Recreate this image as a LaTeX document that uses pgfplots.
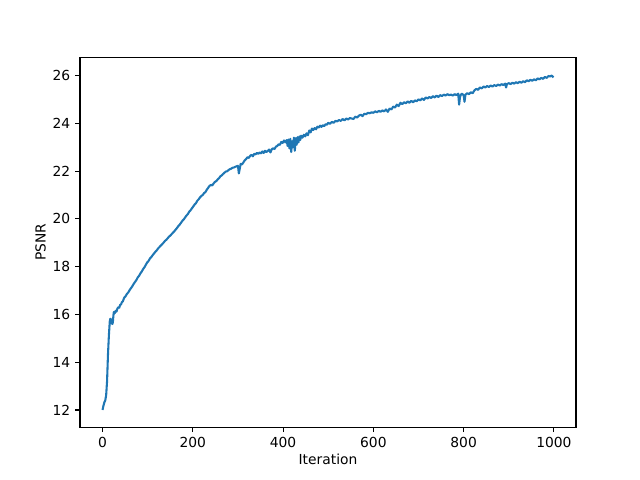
\documentclass[border=0pt]{standalone}
\usepackage{fontspec}
\setmainfont{DejaVu Sans}
\usepackage{pgfplots}
\pgfplotsset{compat=1.18}
\definecolor{mplblue}{HTML}{1F77B4}

\begin{document}
\begin{tikzpicture}
\path[use as bounding box] (-0.8in,-0.528in) rectangle (5.6in,4.272in);
\begin{axis}[
	at={(0,0)}, anchor=south west,
	scale only axis,
	width=4.96in, height=3.696in,
	xmin=-49.95, xmax=1048.95,
	ymin=11.28, ymax=26.75,
	xtick={0,200,400,600,800,1000},
	ytick={12,14,16,18,20,22,24,26},
	xticklabel style={/pgf/number format/1000 sep={}},
	xlabel={Iteration}, ylabel={PSNR},
	tick align=outside, tick pos=left,
	major tick length=3.5pt,
	every tick/.style={black, line width=0.8pt},
	axis line style={line width=0.8pt},
	tick label style={font=\fontsize{10}{12}\selectfont},
	label style={font=\fontsize{10}{12}\selectfont},
	/pgf/number format/assume math mode=true,
	xlabel style={yshift=2pt},
	ylabel style={yshift=-2pt},
	]
	% PSNR per iteration
	\addplot[mplblue, line width=1.5pt, line join=round] coordinates {
		(0,12.00)(2,12.18)(4,12.32)(6,12.40)(8,12.62)(10,13.20)(12,14.30)(14,15.10)(16,15.70)(17,15.82)
		(18,15.70)(19,15.80)(20,15.62)(21,15.75)(22,15.60)(23,15.70)(24,15.95)(25,16.10)(27,16.05)(29,16.15)
		(31,16.12)(33,16.25)(35,16.30)(37,16.28)(39,16.40)(41,16.42)(43,16.52)(45,16.55)(48,16.70)(51,16.76)
		(54,16.86)(57,16.92)(60,17.02)(63,17.10)(66,17.18)(69,17.28)(72,17.36)(75,17.44)(78,17.55)(81,17.62)
		(84,17.72)(87,17.80)(90,17.90)(93,17.98)(96,18.08)(99,18.18)(102,18.24)(105,18.34)(108,18.40)(111,18.48)
		(114,18.55)(117,18.62)(120,18.68)(123,18.76)(126,18.82)(129,18.88)(132,18.94)(135,19.00)(138,19.07)(141,19.12)
		(144,19.18)(147,19.25)(150,19.30)(153,19.36)(156,19.42)(159,19.48)(162,19.55)(165,19.62)(168,19.70)(171,19.76)
		(174,19.84)(177,19.92)(180,19.98)(183,20.06)(186,20.14)(189,20.20)(192,20.30)(195,20.36)(198,20.44)(201,20.52)
		(204,20.60)(207,20.66)(210,20.76)(213,20.82)(216,20.90)(219,20.96)(222,21.00)(225,21.08)(228,21.12)(231,21.22)
		(234,21.30)(237,21.38)(240,21.42)(243,21.40)(246,21.48)(249,21.55)(252,21.58)(255,21.65)(258,21.70)(261,21.78)
		(264,21.82)(267,21.88)(270,21.93)(273,21.98)(276,21.99)(279,22.04)(282,22.08)(285,22.10)(288,22.14)(291,22.15)
		(294,22.18)(297,22.20)(300,22.22)(302,21.90)(304,22.10)(306,22.30)(309,22.28)(312,22.36)(315,22.45)(318,22.50)
		(321,22.58)(324,22.55)(327,22.64)(330,22.68)(333,22.62)(336,22.72)(339,22.70)(342,22.76)(345,22.72)(348,22.78)
		(351,22.74)(354,22.82)(357,22.76)(360,22.85)(363,22.80)(366,22.84)(369,22.90)(372,22.78)(375,22.92)(378,22.95)
		(381,22.92)(384,23.02)(387,23.05)(390,23.12)(393,23.10)(396,23.22)(399,23.18)(402,23.28)(405,23.20)(408,23.30)
		(410,23.05)(412,23.32)(414,22.95)(416,23.35)(418,22.80)(420,23.25)(422,23.00)(424,23.40)(426,22.85)(428,23.38)
		(430,23.10)(432,23.42)(434,23.20)(436,23.45)(438,23.30)(440,23.48)(443,23.40)(446,23.52)(449,23.45)(452,23.58)
		(455,23.50)(458,23.70)(461,23.62)(464,23.78)(467,23.72)(470,23.80)(473,23.75)(476,23.86)(479,23.82)(482,23.90)
		(485,23.85)(488,23.92)(491,23.88)(494,23.96)(497,23.94)(500,24.02)(504,23.98)(508,24.06)(512,24.02)(516,24.10)
		(520,24.08)(524,24.14)(528,24.10)(532,24.18)(536,24.12)(540,24.20)(544,24.16)(548,24.22)(552,24.20)(556,24.18)
		(560,24.28)(564,24.24)(568,24.32)(572,24.36)(576,24.30)(580,24.40)(584,24.38)(588,24.44)(592,24.42)(596,24.46)
		(600,24.44)(604,24.50)(608,24.46)(612,24.52)(616,24.48)(620,24.54)(624,24.50)(628,24.58)(632,24.48)(636,24.62)
		(640,24.58)(644,24.70)(648,24.66)(652,24.78)(656,24.72)(660,24.86)(664,24.80)(668,24.88)(672,24.84)(676,24.92)
		(680,24.86)(684,24.94)(688,24.88)(692,24.96)(696,24.92)(700,25.00)(704,24.96)(708,25.04)(712,24.98)(716,25.08)
		(720,25.04)(724,25.10)(728,25.06)(732,25.14)(736,25.08)(740,25.16)(744,25.10)(748,25.18)(752,25.14)(756,25.20)
		(760,25.16)(764,25.22)(768,25.18)(772,25.20)(776,25.16)(780,25.22)(784,25.18)(788,25.24)(790,24.78)(792,25.10)
		(794,25.20)(796,25.24)(800,25.18)(802,24.90)(804,25.20)(808,25.26)(812,25.22)(816,25.30)(820,25.26)(824,25.38)
		(828,25.44)(832,25.40)(836,25.50)(840,25.46)(844,25.54)(848,25.50)(852,25.56)(856,25.52)(860,25.58)(864,25.54)
		(868,25.60)(872,25.56)(876,25.62)(880,25.58)(884,25.64)(888,25.60)(892,25.66)(894,25.50)(896,25.64)(900,25.68)
		(904,25.64)(908,25.70)(912,25.66)(916,25.72)(920,25.68)(924,25.74)(928,25.70)(932,25.76)(936,25.72)(940,25.80)
		(944,25.76)(948,25.82)(952,25.78)(956,25.84)(960,25.80)(964,25.88)(968,25.84)(972,25.90)(976,25.86)(980,25.94)
		(984,25.90)(988,25.98)(992,25.96)(995,26.00)(997,25.96)(999,25.92)
	};
\end{axis}
\end{tikzpicture}
\end{document}
